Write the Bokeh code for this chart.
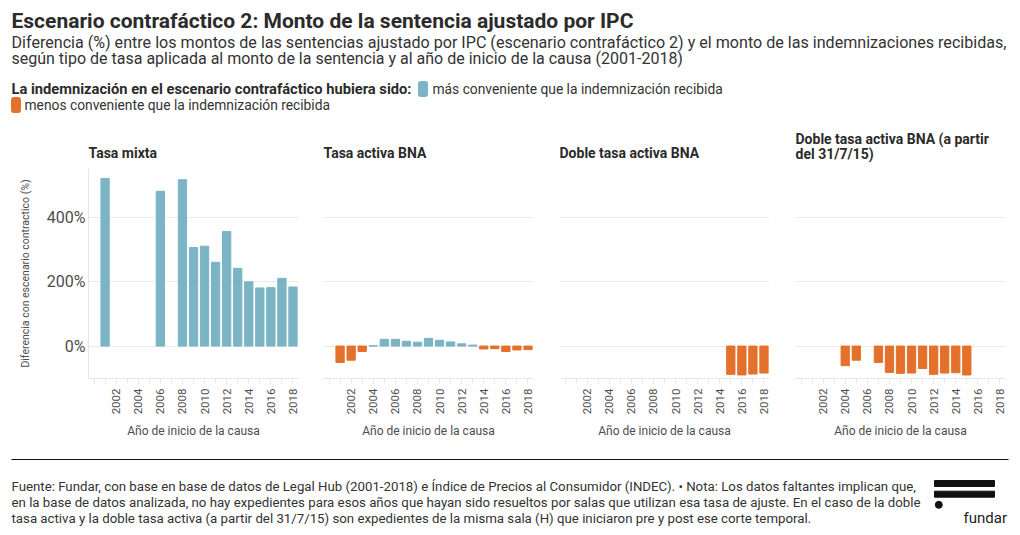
from bokeh.plotting import figure
from bokeh.layouts import column, row
from bokeh.models import Range1d, Label, FixedTicker, PrintfTickFormatter, ColumnDataSource
from bokeh.embed import file_html
from bokeh.resources import INLINE

FONT = "Roboto"
BLUE = "#7bb4c4"
ORANGE = "#e3712b"
DARK = "#2b2b2b"
GREY = "#4d4d4d"
LIGHT = "#e6e6e6"

# ---------------- data ----------------
years = list(range(2001, 2019))
tasa_mixta = [522, None, None, None, None, 482, None, 518, 307, 311, 261, 357, 242, 200, 181, 182, 211, 184]
tasa_activa_bna = [-51, -44, -17, 1, 21, 21, 15, 12, 24, 18, 13, 7, 3, -9, -8, -17, -12, -11]
doble_tasa_activa = [None] * 14 + [-88, -90, -87, -84]
doble_tasa_activa_31715 = [None, None, None, -61, -44, None, -51, -82, -85, -84, -70, -88, -84, -83, -90, None, None, None]

panel_titles = ["Tasa mixta", "Tasa activa BNA", "Doble tasa activa BNA",
                "Doble tasa activa BNA (a partir\ndel 31/7/15)"]
panel_values = [tasa_mixta, tasa_activa_bna, doble_tasa_activa, doble_tasa_activa_31715]
x_tick_labels = list(range(2002, 2019, 2))
x_minor = list(range(2000, 2019))
y_ticks = [0, 200, 400]

title_txt = "Escenario contrafáctico 2: Monto de la sentencia ajustado por IPC"
subtitle_1 = ("Diferencia (%) entre los montos de las sentencias ajustado por IPC (escenario contrafáctico 2) "
              "y el monto de las indemnizaciones recibidas,")
subtitle_2 = "según tipo de tasa aplicada al monto de la sentencia y al año de inicio de la causa (2001-2018)"
legend_head = "La indemnización en el escenario contrafáctico hubiera sido:"
legend_pos = "más conveniente que la indemnización recibida"
legend_neg = "menos conveniente que la indemnización recibida"
footer_lines = [
    "Fuente: Fundar, con base en base de datos de Legal Hub (2001-2018) e Índice de Precios al Consumidor (INDEC). • Nota: Los datos faltantes implican que,",
    "en la base de datos analizada, no hay expedientes para esos años que hayan sido resueltos por salas que utilizan esa tasa de ajuste. En el caso de la doble",
    "tasa activa y la doble tasa activa (a partir del 31/7/15) son expedientes de la misma sala (H) que iniciaron pre y post ese corte temporal.",
]


def blank(w, h):
    p = figure(width=w, height=h, x_range=Range1d(0, w), y_range=Range1d(0, h),
               min_border=0, toolbar_location=None, output_backend="svg",
               x_axis_location=None, y_axis_location=None)
    p.grid.visible = False
    p.outline_line_color = None
    return p


def lab(p, x, y, text, size, color=DARK, bold=False, baseline="middle", align="left"):
    p.add_layout(Label(x=x, y=y, text=text, text_font=FONT, text_font_size=size,
                       text_color=color, text_font_style="bold" if bold else "normal",
                       text_baseline=baseline, text_align=align))


# ---------------- header ----------------
H = 114
B = 8 + H  # page y of header bottom
head = blank(1004, H)
lab(head, 3, B - 20, title_txt, "21px", DARK, bold=True)
lab(head, 3, B - 42, subtitle_1, "16.1px", "#333333")
lab(head, 3, B - 58, subtitle_2, "16px", "#333333")
lab(head, 3, B - 88, legend_head, "14.7px", DARK, bold=True)
head.quad(left=[410], right=[419], bottom=[B - 96], top=[B - 81], color=BLUE, border_radius=2)
lab(head, 424, B - 88, legend_pos, "13.8px", "#333333")
head.quad(left=[3], right=[12], bottom=[B - 112], top=[B - 97], color=ORANGE, border_radius=2)
lab(head, 16, B - 104, legend_neg, "13.8px", "#333333")

# ---------------- panels ----------------
borders = [(80, 12), (13, 13), (13, 13), (13, 7)]
standoffs = [15, 15, 15, 12]
panels = []
for i, (ttl, vals) in enumerate(zip(panel_titles, panel_values)):
    bl, br = borders[i]
    p = figure(frame_width=210, frame_height=210,
               x_range=Range1d(1999.5, 2018.5), y_range=Range1d(-101, 553),
               min_border_left=bl, min_border_right=br, min_border_top=46, min_border_bottom=72,
               toolbar_location=None, output_backend="svg",
               y_axis_location="left" if i == 0 else None, title=ttl)
    p.outline_line_color = None
    p.title.text_font = FONT
    p.title.text_font_size = "14px"
    p.title.text_font_style = "bold"
    p.title.text_color = DARK
    p.title.align = "left"
    p.title.offset = 0
    p.title.standoff = standoffs[i]
    p.title.text_line_height = 0.95

    xs = [y for y, v in zip(years, vals) if v is not None]
    vs = [v for v in vals if v is not None]
    cs = [BLUE if v >= 0 else ORANGE for v in vs]
    src = ColumnDataSource(dict(x=xs, top=vs, color=cs))
    p.vbar(x="x", top="top", bottom=0, width=0.75, color="color", source=src)

    p.xgrid.visible = False
    p.ygrid.ticker = FixedTicker(ticks=y_ticks)
    p.ygrid.grid_line_color = "#ebebeb"

    xa = p.xaxis[0]
    xa.ticker = FixedTicker(ticks=x_tick_labels, minor_ticks=x_minor)
    xa.major_label_orientation = 1.5707963
    xa.major_label_text_font = FONT
    xa.major_label_text_font_size = "11.5px"
    xa.major_label_text_color = GREY
    xa.major_label_standoff = 5
    xa.major_tick_out = 5
    xa.major_tick_in = 0
    xa.minor_tick_out = 5
    xa.minor_tick_in = 0
    xa.major_tick_line_color = LIGHT
    xa.minor_tick_line_color = LIGHT
    xa.axis_line_color = LIGHT
    xa.axis_label = "Año de inicio de la causa"
    xa.axis_label_text_font = FONT
    xa.axis_label_text_font_size = "12px"
    xa.axis_label_text_font_style = "normal"
    xa.axis_label_text_color = GREY
    xa.axis_label_standoff = 7

    if i == 0:
        ya = p.yaxis[0]
        ya.ticker = FixedTicker(ticks=y_ticks)
        ya.formatter = PrintfTickFormatter(format="%d%%")
        ya.major_label_text_font = FONT
        ya.major_label_text_font_size = "16px"
        ya.major_label_text_color = GREY
        ya.major_tick_out = 0
        ya.major_tick_in = 0
        ya.minor_tick_out = 0
        ya.minor_tick_in = 0
        ya.major_label_standoff = 3
        ya.axis_line_color = LIGHT
        ya.axis_label = "Diferencia con escenario contractico (%)"
        ya.axis_label_text_font = FONT
        ya.axis_label_text_font_size = "10.5px"
        ya.axis_label_text_font_style = "normal"
        ya.axis_label_text_color = GREY
        ya.axis_label_standoff = 12
    panels.append(p)

# ---------------- footer ----------------
F = 77
foot = blank(1004, F)
foot.segment(x0=[3], y0=[68], x1=[1000], y1=[68], line_color="#111111", line_width=1)
for txt, yy in zip(footer_lines, [41, 25, 9]):
    lab(foot, 3, yy, txt, "13.25px", "#333333")
foot.quad(left=[926, 926], right=[986, 986], bottom=[41, 30.3], top=[47, 36.3], color="#111111")
foot.circle(x=[930.3], y=[22.7], radius=3.5, color="#111111")
lab(foot, 955, 10, "fundar", "15px", "#222222", baseline="alphabetic")

layout = column(head, row(*panels, spacing=0), foot, spacing=0, margin=(8, 0, 0, 8))
open("out.html", "w").write(file_html(layout, INLINE))
